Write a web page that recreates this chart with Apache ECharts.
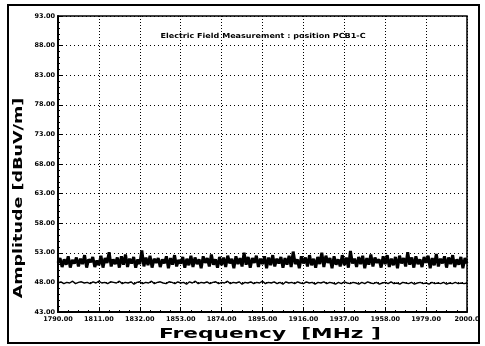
<!DOCTYPE html>
<html><head><meta charset="utf-8">
<script src="https://cdn.jsdelivr.net/npm/echarts@6/dist/echarts.min.js"></script>
<style>html,body{margin:0;padding:0;background:#fff}#c{width:485px;height:346px}</style>
</head><body><div id="c"></div>
<script>
// ---- data ----
const chartTitle = 'Electric Field Measurement : position PCB1-C';
const xAxisTitle = 'Frequency  [MHz ]';
const yAxisTitle = 'Amplitude [dBuV/m]';
const xTickLabels = ['1790.00','1811.00','1832.00','1853.00','1874.00','1895.00','1916.00','1937.00','1958.00','1979.00','2000.0'];
const yTickLabels = ['43.00','48.00','53.00','58.00','63.00','68.00','73.00','78.00','83.00','88.00','93.00'];
const yMin = 43, yMax = 93, yStep = 5;
const freqSpan = 210, freqStep = 21;
const upperTrace = [
51.3,52.1,50.6,51.9,51.0,52.4,50.5,51.8,51.2,52.2,
50.7,52.0,51.1,52.6,50.5,51.9,51.4,52.3,50.6,51.7,
50.9,52.5,50.5,52.1,51.3,53.1,50.7,51.9,51.1,52.2,
50.5,52.4,51.0,52.7,50.6,52.0,51.2,52.3,50.5,51.9,
51.1,53.4,50.7,52.2,50.9,52.5,50.5,52.0,51.3,52.1,
50.6,51.9,51.2,52.4,50.4,52.1,51.0,52.6,50.7,51.8,
51.2,52.3,50.5,52.0,50.9,52.5,50.6,52.2,51.1,51.9,
50.4,52.4,51.3,52.1,50.7,52.7,51.0,51.9,50.5,52.3,
50.9,52.2,50.6,52.5,51.2,52.0,50.4,52.4,51.1,52.1,
50.7,53.0,51.0,52.3,50.5,52.1,51.3,52.5,50.6,52.0,
51.1,52.4,50.4,52.2,50.9,52.6,50.7,52.0,51.2,52.3,
50.5,52.1,51.0,52.5,50.6,53.2,51.1,51.9,50.4,52.4,
51.2,52.2,50.7,52.6,50.9,52.0,50.5,52.3,51.1,53.0,
50.6,52.5,51.3,52.1,50.4,52.4,51.0,51.9,50.7,52.6,
50.9,52.2,50.5,53.3,51.2,52.0,50.6,52.3,51.1,52.5,
50.4,52.1,51.0,52.7,50.7,52.2,51.3,51.9,50.5,52.4,
51.1,52.6,50.6,52.0,50.9,52.3,50.4,52.5,51.2,52.1,
50.7,53.1,51.0,52.2,50.5,52.4,51.1,51.9,50.6,52.3,
51.3,52.5,50.4,52.1,50.9,52.8,50.7,52.0,51.2,52.4,
50.5,52.2,51.1,52.6,50.6,51.9,51.0,52.3,50.4,52.1,
51.2];
const lowerTrace = [
47.9,48.1,47.8,48.0,47.9,48.2,47.8,48.0,48.1,47.9,
48.0,47.8,48.1,47.9,48.2,47.9,48.0,47.8,48.1,48.0,
47.9,48.2,47.8,48.0,47.9,48.1,47.7,48.0,48.1,47.8,
48.0,47.9,48.2,47.8,48.0,48.1,47.9,47.8,48.1,48.0,
47.8,48.1,47.9,48.0,47.7,48.1,47.9,48.2,47.8,48.0,
47.9,48.1,47.8,48.0,48.1,47.8,48.0,47.9,48.2,47.8,
48.0,47.9,48.1,47.7,48.0,47.9,48.1,47.8,48.0,47.9,
48.2,47.8,48.0,47.9,48.1,47.8,48.0,47.7,48.1,47.9,
48.0,47.8,48.1,47.9,47.8,48.1,47.9,48.0,47.7,48.0,
47.9,48.1,47.8,48.0,47.9,47.7,48.0,47.8,48.1,47.9,
47.8,48.0,47.9,47.7,48.0,47.8,48.1,47.9,47.8,48.0,
47.7,47.9,48.0,47.8,48.1,47.8,47.9,47.7,48.0,47.9,
47.8,48.0,47.7,47.9,48.0,47.8,47.9,47.7,48.0,47.8,
47.9,47.8,48.0,47.7,47.9,47.8,48.0,47.8,47.9,47.8,
47.9];
// ---- build ----
function toPairs(arr){ return arr.map((v,i)=>[i*freqSpan/(arr.length-1), v]); }
const chart = echarts.init(document.getElementById('c'), null, {renderer:'canvas'});
const lblFont = {fontFamily:'DejaVu Sans', fontWeight:'bold', fontSize:6.5, color:'#000'};
chart.setOption({
  animation:false,
  backgroundColor:'#fff',
  grid:{left:58, top:16, right:18, bottom:34, show:true, borderColor:'#000', borderWidth:1.5, backgroundColor:'#fff'},
  xAxis:{type:'value', min:0, max:freqSpan, interval:freqStep,
    axisLine:{show:true, onZero:false, lineStyle:{color:'#000', width:2}},
    axisTick:{show:true, inside:true, length:4, lineStyle:{color:'#000', width:1}},
    minorTick:{show:true, splitNumber:4, length:2, lineStyle:{color:'#000'}},
    axisLabel:Object.assign({margin:4, formatter:(v,i)=>xTickLabels[i]}, lblFont),
    splitLine:{show:true, lineStyle:{color:'#000', type:[1,2], width:1}}
  },
  yAxis:{type:'value', min:yMin, max:yMax, interval:yStep,
    axisLine:{show:true, onZero:false, lineStyle:{color:'#000', width:2}},
    axisTick:{show:true, inside:true, length:4, lineStyle:{color:'#000', width:1}},
    minorTick:{show:true, splitNumber:5, length:2, lineStyle:{color:'#000'}},
    axisLabel:Object.assign({margin:3, formatter:(v,i)=>yTickLabels[i]}, lblFont),
    splitLine:{show:true, lineStyle:{color:'#000', type:[1,3], width:1}}
  },
  series:[
    {type:'line', data:toPairs(upperTrace), showSymbol:false, lineStyle:{color:'#000', width:3}, z:5},
    {type:'line', data:toPairs(lowerTrace), showSymbol:false, lineStyle:{color:'#000', width:1.4}, z:5}
  ],
  graphic:[
    {type:'rect', shape:{x:8, y:5, width:471, height:338}, style:{fill:'none', stroke:'#000', lineWidth:2}, z:-1},
    {type:'text', x:263, y:36, scaleX:1.15, style:{text:chartTitle, font:'bold 7px "DejaVu Sans"', fill:'#000', textAlign:'center', textVerticalAlign:'middle'}, z:10},
    {type:'text', x:270, y:334, scaleX:1.55, style:{text:xAxisTitle, font:'bold 14px "DejaVu Sans"', fill:'#000', textAlign:'center', textVerticalAlign:'middle'}, z:10},
    {type:'text', x:19, y:198, rotation:Math.PI/2, scaleX:1.35, style:{text:yAxisTitle, font:'bold 13px "DejaVu Sans"', fill:'#000', textAlign:'center', textVerticalAlign:'middle'}, z:10}
  ]
});
</script></body></html>
